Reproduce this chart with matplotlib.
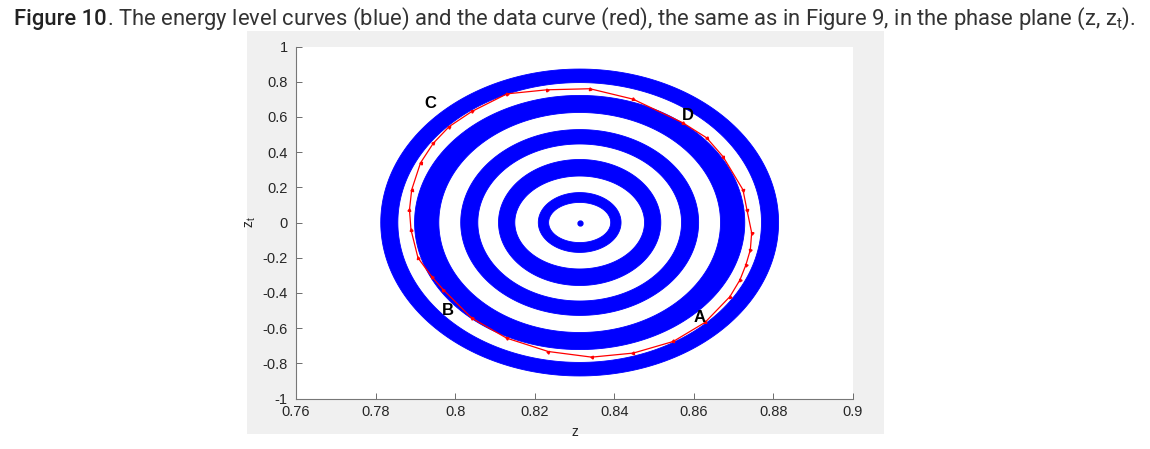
import numpy as np
import matplotlib
matplotlib.use('Agg')
import matplotlib.pyplot as plt
from matplotlib.path import Path
from matplotlib.patches import PathPatch, Rectangle

plt.rcParams['axes.unicode_minus'] = False
plt.rcParams['mathtext.default'] = 'regular'
plt.rcParams['font.family'] = ['Liberation Sans', 'DejaVu Sans']

# energy level rings: centre and semi-axes of the outer / inner edges (z, zt)
z_centre = 0.8313
ring_a_out = [0.0500, 0.0415, 0.0299, 0.0204, 0.0104]
ring_a_in = [0.0457, 0.0354, 0.0256, 0.0163, 0.0078]
ring_b_out = [0.872, 0.722, 0.528, 0.358, 0.170]
ring_b_in = [0.795, 0.625, 0.446, 0.264, 0.114]

# data curve, clockwise
red_z = [0.87453, 0.87420, 0.87309, 0.87159, 0.86907, 0.86279, 0.85482, 0.84477,
         0.83432, 0.82341, 0.81295, 0.80416, 0.79702, 0.79410, 0.79066, 0.78890,
         0.78852, 0.78908, 0.79130, 0.79450, 0.79850, 0.80420, 0.81303, 0.82308,
         0.83389, 0.84469, 0.85726, 0.86322, 0.86731, 0.87234, 0.87334, 0.87453]
red_zt = [-0.058, -0.155, -0.240, -0.326, -0.421, -0.568, -0.676, -0.742,
          -0.765, -0.733, -0.657, -0.543, -0.382, -0.307, -0.201, -0.041,
          0.072, 0.186, 0.339, 0.450, 0.545, 0.631, 0.731, 0.754,
          0.760, 0.701, 0.566, 0.481, 0.375, 0.186, 0.072, -0.058]

point_names = ['A', 'B', 'C', 'D']
point_z = [0.8615, 0.7982, 0.7937, 0.8585]
point_zt = [-0.541, -0.502, 0.674, 0.606]

x_ticks = [0.76, 0.78, 0.80, 0.82, 0.84, 0.86, 0.88, 0.90]
x_labels = ['0.76', '0.78', '0.8', '0.82', '0.84', '0.86', '0.88', '0.9']
y_ticks = [-1, -0.8, -0.6, -0.4, -0.2, 0, 0.2, 0.4, 0.6, 0.8, 1]
y_labels = ['-1', '-0.8', '-0.6', '-0.4', '-0.2', '0', '0.2', '0.4', '0.6', '0.8', '1']

W, H = 1150, 449
fig = plt.figure(figsize=(W/100, H/100), dpi=100)
# grey matlab figure panel
fig.patches.append(Rectangle((247/W, 1-434/H), (884-247)/W, (434-31)/H,
                             transform=fig.transFigure, facecolor='#f0f0f0',
                             edgecolor='none', zorder=-5))

cap1 = fig.text(14/W, 1-25/H, 'Figure 10', fontsize=15.8, family='Roboto',
                fontweight='medium', color='#222222', va='baseline')
renderer = fig.canvas.get_renderer()
x_end = cap1.get_window_extent(renderer).x1
fig.text(x_end/W, 1-25/H,
         '. The energy level curves (blue) and the data curve (red), the same as in '
         'Figure 9, in the phase plane (z, z$_{t}$).',
         fontsize=15.8, family='Roboto', color='#333333', va='baseline')

ax = fig.add_axes([296/W, 1-398.5/H, 557/W, 352/H])
ax.set_facecolor('white')

t = np.linspace(0, 2*np.pi, 241)
for ao, ai, bo, bi in zip(ring_a_out, ring_a_in, ring_b_out, ring_b_in):
    outer = np.column_stack([z_centre + ao*np.cos(t), bo*np.sin(t)])
    inner = np.column_stack([z_centre + ai*np.cos(t[::-1]), bi*np.sin(t[::-1])])
    codes = [Path.MOVETO] + [Path.LINETO]*(len(t)-1)
    path = Path(np.vstack([outer, inner]), codes + codes)
    ax.add_patch(PathPatch(path, facecolor='#0000ff', edgecolor='#0000ff', lw=0.6))
ax.plot([z_centre], [0], 'o', color='#0000ff', ms=3.5)

ax.set_xlim(0.76, 0.90)
ax.set_ylim(-1, 1)

ax.plot(red_z, red_zt, color='#ff0000', lw=0.9, solid_joinstyle='round')
# small arrow heads showing direction
for i in range(0, len(red_z)-1):
    p0 = ax.transData.transform((red_z[i], red_zt[i]))
    p1 = ax.transData.transform((red_z[i+1], red_zt[i+1]))
    ang = np.degrees(np.arctan2(p1[1]-p0[1], p1[0]-p0[0]))
    ax.plot([red_z[i]], [red_zt[i]], marker=(3, 0, ang-90), color='#ff0000',
            ms=2.4, lw=0)

for name, zz, zt in zip(point_names, point_z, point_zt):
    ax.text(zz, zt, name, fontsize=12, fontweight='bold', ha='center', va='center')

ax.set_xticks(x_ticks)
ax.set_xticklabels(x_labels)
ax.set_yticks(y_ticks)
ax.set_yticklabels(y_labels)
ax.tick_params(direction='in', length=4, width=0.6, colors='#555555',
               labelcolor='#262626', labelsize=10.5)
ax.tick_params(axis='y', pad=6)
ax.tick_params(axis='x', pad=5)
for s in ['top', 'right']:
    ax.spines[s].set_visible(False)
for s in ['left', 'bottom']:
    ax.spines[s].set_color('#777777')
    ax.spines[s].set_linewidth(0.8)
ax.set_xlabel('z', fontsize=10, color='#262626', labelpad=4)
ax.set_ylabel('z$_t$', fontsize=10, color='#262626', labelpad=3)

fig.savefig('out.png', dpi=100)
